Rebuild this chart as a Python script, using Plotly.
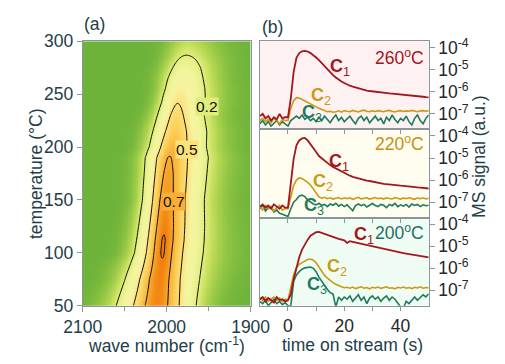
import numpy as np
import plotly.graph_objects as go
from plotly.colors import sample_colorscale

# ---------------- panel (a): IR band intensity map ----------------
TEMP = [50, 75, 100, 112, 125, 150, 175, 190, 200, 215, 230, 242, 255, 265, 275, 283, 287, 300]
PEAK_HEIGHT = [0.78, 0.79, 0.806, 0.806, 0.792, 0.76, 0.73, 0.705, 0.675, 0.61, 0.55, 0.497,
               0.43, 0.37, 0.30, 0.235, 0.198, 0.12]
PEAK_CENTER = [2012.1, 2008.2, 2004.4, 2003.3, 2002.4, 2001.1, 1998.4, 1996.7, 1993.4, 1990.1,
               1988.5, 1986.8, 1983.5, 1980.8, 1978.6, 1976.9, 1976.2, 1974.7]
SIGMA_HIGH_WN = [29.1, 25.0, 20.3, 19.5, 18.7, 17.0, 17.6, 18.1, 17.6, 17.6, 15.8, 14.3,
                 14.6, 15.8, 15.6, 15.6, 15.6, 15.6]
SIGMA_LOW_WN = [28.6, 25.7, 24.2, 24.8, 25.3, 25.8, 26.5, 26.9, 24.2, 23.6, 22.0, 23.0,
                22.6, 21.4, 21.4, 21.4, 21.4, 21.4]
SHAPE_LOW_WN = [2.0, 1.65, 1.5, 1.55, 1.6, 1.7, 1.7, 1.7, 1.7, 1.7, 1.7, 1.7,
                1.7, 1.7, 1.7, 1.7, 1.7, 1.7]
LABELED_LEVELS = [0.2, 0.5, 0.7]
LABEL_WN = [1951.6, 1975.3, 1991.8]
LABEL_T = [238, 198, 149]
INNER_LEVEL = 0.8
WN_TICKS = [2100, 2000, 1900]
WN_MINOR = [2050, 1950]
T_TICKS = [50, 100, 150, 200, 250, 300]

# ---------------- panel (b): MS signals (log10 values) ----------------
TIME = list(range(-10, 51))
TIME_TICKS = [0, 20, 40]
TIME_MINOR = [10, 30]
MS_TICKS = [1e-4, 1e-5, 1e-6, 1e-7]
MS_TICKTEXT = ["10<sup>-4</sup>", "10<sup>-5</sup>", "10<sup>-6</sup>", "10<sup>-7</sup>"]

LOG_C1_260 = [-7.1, -7.0, -7.2, -7.1, -7.3, -7.15, -7.25, -7.0, -7.2, -7.15,
              -7.15, -6.3, -5.1, -4.45, -4.24, -4.16, -4.14, -4.17, -4.24, -4.33, -4.44,
              -4.56, -4.7, -4.85, -5.0, -5.12, -5.24, -5.35, -5.45, -5.53, -5.6,
              -5.67, -5.72, -5.76, -5.8, -5.84, -5.88, -5.91, -5.94, -5.96, -5.98,
              -6.0, -6.01, -6.03, -6.04, -6.05, -6.07, -6.08, -6.09, -6.1, -6.11,
              -6.12, -6.14, -6.15, -6.17, -6.18, -6.2, -6.21, -6.22, -6.24, -6.25]
LOG_C2_260 = [-7.3, -7.2, -7.35, -7.25, -7.4, -7.2, -7.3, -7.45, -7.25, -7.3,
              -7.3, -6.75, -6.4, -6.26, -6.28, -6.35, -6.42, -6.5, -6.56, -6.62, -6.68,
              -6.74, -6.8, -6.86, -6.9, -6.88, -6.92, -6.9, -6.86, -6.92, -6.85,
              -6.88, -6.9, -6.84, -6.87, -6.91, -6.86, -6.83, -6.88, -6.9, -6.86,
              -6.89, -6.85, -6.87, -6.9, -6.86, -6.84, -6.88, -6.91, -6.87, -6.85,
              -6.89, -6.86, -6.88, -6.84, -6.87, -6.9, -6.86, -6.85, -6.88, -6.85]
LOG_C3_260 = [-7.45, -7.3, -7.5, -7.35, -7.55, -7.4, -7.3, -7.5, -7.35, -7.45,
              -7.55, -7.3, -7.2, -7.1, -7.2, -7.05, -7.25, -7.15, -7.3, -7.2, -7.35,
              -7.15, -7.3, -7.1, -7.25, -7.4, -7.2, -7.05, -7.3, -7.15, -7.35,
              -7.2, -7.1, -7.3, -7.45, -7.2, -7.1, -7.3, -7.15, -7.4, -7.25,
              -7.1, -7.3, -7.2, -7.45, -7.15, -7.3, -7.05, -7.25, -7.4, -7.2,
              -7.3, -7.1, -7.35, -7.5, -7.2, -7.05, -7.3, -7.45, -7.2, -7.05]

LOG_C1_220 = [-7.2, -7.1, -7.25, -7.15, -7.3, -7.1, -7.2, -7.3, -7.15, -7.25,
              -7.25, -6.0, -5.05, -4.42, -4.2, -4.11, -4.09, -4.2, -4.36, -4.55, -4.73,
              -4.91, -5.02, -5.14, -5.24, -5.32, -5.4, -5.47, -5.55, -5.62, -5.69,
              -5.75, -5.8, -5.85, -5.89, -5.92, -5.96, -5.99, -6.02, -6.04, -6.07,
              -6.09, -6.12, -6.15, -6.17, -6.18, -6.2, -6.21, -6.23, -6.24, -6.25,
              -6.26, -6.28, -6.29, -6.3, -6.32, -6.33, -6.34, -6.35, -6.37, -6.38]
LOG_C2_220 = [-7.2, -7.35, -7.15, -7.3, -7.2, -7.4, -7.25, -7.15, -7.35, -7.3,
              -7.3, -6.7, -6.25, -6.0, -5.9, -5.93, -6.0, -6.1, -6.22, -6.42, -6.62,
              -6.76, -6.82, -6.78, -6.84, -6.8, -6.86, -6.82, -6.79, -6.85, -6.81,
              -6.84, -6.8, -6.87, -6.82, -6.78, -6.85, -6.83, -6.8, -6.86, -6.82,
              -6.79, -6.84, -6.81, -6.86, -6.8, -6.83, -6.85, -6.79, -6.82, -6.86,
              -6.81, -6.84, -6.8, -6.83, -6.87, -6.81, -6.84, -6.8, -6.85, -6.82]
LOG_C3_220 = [-7.3, -7.15, -7.4, -7.25, -7.2, -7.45, -7.35, -7.5, -7.55, -7.6,
              -7.65, -7.3, -7.0, -6.88, -6.72, -6.68, -6.75, -6.9, -7.0, -7.08, -7.12,
              -7.05, -7.15, -7.1, -7.2, -7.08, -7.14, -7.05, -7.18, -7.1, -7.2,
              -7.12, -7.25, -7.38, -7.15, -7.08, -7.16, -7.1, -7.22, -7.12, -7.06,
              -7.15, -7.2, -7.1, -7.14, -7.25, -7.1, -7.16, -7.05, -7.2, -7.12,
              -7.18, -7.1, -7.22, -7.08, -7.15, -7.1, -7.2, -7.12, -7.16, -7.14]

LOG_C1_200 = [-7.4, -7.3, -7.5, -7.35, -7.45, -7.55, -7.3, -7.45, -7.4, -7.5,
              -7.45, -7.17, -6.5, -5.95, -5.5, -5.15, -4.9, -4.7, -4.52, -4.42, -4.36,
              -4.35, -4.4, -4.45, -4.49, -4.53, -4.58, -4.62, -4.66, -4.7, -4.73,
              -4.85, -4.77, -4.8, -4.83, -4.86, -4.89, -4.92, -4.95, -4.98, -5.01,
              -5.03, -5.06, -5.08, -5.11, -5.14, -5.17, -5.2, -5.23, -5.26, -5.28,
              -5.31, -5.33, -5.35, -5.37, -5.39, -5.41, -5.44, -5.46, -5.48, -5.5]
LOG_C2_200 = [-7.35, -7.45, -7.3, -7.5, -7.4, -7.3, -7.45, -7.35, -7.5, -7.4,
              -7.45, -6.9, -6.3, -5.96, -5.82, -5.74, -5.66, -5.6, -5.58, -5.63, -5.75,
              -5.95, -6.16, -6.32, -6.45, -6.56, -6.65, -6.72, -6.8, -6.84, -6.88,
              -6.86, -6.9, -6.85, -6.92, -6.88, -6.84, -6.9, -6.87, -6.93, -6.86,
              -6.89, -6.85, -6.91, -6.87, -6.84, -6.9, -6.88, -6.93, -6.86, -6.89,
              -6.85, -6.9, -6.87, -6.92, -6.86, -6.89, -6.84, -6.9, -6.87, -6.88]
LOG_C3_200 = [-7.5, -7.6, -7.45, -7.7, -7.55, -7.4, -7.6, -7.5, -7.65, -7.55,
              -7.7, -7.7, -6.6, -6.3, -6.15, -6.04, -5.98, -5.95, -5.94, -6.0, -6.15,
              -6.4, -6.6, -6.8, -6.96, -7.1, -7.17, -7.75, -7.3, -7.45, -7.3,
              -7.4, -7.25, -7.5, -7.35, -7.2, -7.45, -7.3, -7.6, -7.35, -7.25,
              -7.4, -7.3, -7.5, -7.35, -7.25, -7.45, -7.3, -7.4, -7.55, -7.75,
              -7.8, -7.5, -7.6, -7.45, -7.3, -7.45, -7.3, -7.2, -7.3, -7.15]

FONT = "Liberation Sans, Arial, sans-serif"
FS = 17.5
TXT = "#223e49"
TXT_R = "#262626"
GREY = "#8a969c"
C1_COL = "#a3161f"
C2_COL = "#c99a12"
C3_COL = "#1e7a5c"
BG_COLS = ["#fdf1f1", "#fefdf0", "#effcf3"]
TEMP_COLS = ["#a3161f", "#c8900e", "#1e6f5f"]
ZMAX = 0.82

# ---- build spectral map from per-temperature peak parameters ----
wn = np.arange(1900.0, 2100.5, 1.0)
Z = []
for A, c, sh, sl, p in zip(PEAK_HEIGHT, PEAK_CENTER, SIGMA_HIGH_WN, SIGMA_LOW_WN, SHAPE_LOW_WN):
    d = wn - c
    hi = A * np.exp(-0.5 * (np.clip(d, 0, None) / sh) ** 2)
    lo = A * np.exp(-0.5 * (np.clip(-d, 0, None) / sl) ** p)
    Z.append(np.where(d >= 0, hi, lo))
Z = np.array(Z)

# colour stops given in z units, normalised by ZMAX
CSTOPS_Z = [0.0, 0.01, 0.03, 0.07, 0.12, 0.17, 0.22, 0.3, 0.4, 0.5, 0.6, 0.7, 0.76, 0.82]
CSTOPS_COL = ["#6db33a", "#76b73c", "#86c041", "#a0cd4a", "#bddc58", "#d6e96e", "#e6f085",
              "#f0f69c", "#f8f3a0", "#fce27a", "#fccf58", "#f9ae36", "#f5931c", "#f07406"]
cscale = [[z / ZMAX, c] for z, c in zip(CSTOPS_Z, CSTOPS_COL)]

fig = go.Figure()
fig.add_trace(go.Heatmap(x=wn, y=TEMP, z=Z, colorscale=cscale, zmin=0, zmax=ZMAX,
                         zsmooth="best", showscale=False, hoverinfo="skip",
                         xaxis="x", yaxis="y"))
for lvl in LABELED_LEVELS + [INNER_LEVEL]:
    fig.add_trace(go.Contour(
        x=wn, y=TEMP, z=Z, autocontour=False,
        contours=dict(start=lvl, end=lvl, size=0.5, coloring="lines", showlabels=False),
        line=dict(width=1, smoothing=1.0),
        colorscale=[[0, "#111111"], [1, "#111111"]], showscale=False,
        hoverinfo="skip", xaxis="x", yaxis="y"))

# ---- MS panels ----
panels = [
    ("x2", "y2", LOG_C1_260, LOG_C2_260, LOG_C3_260),
    ("x3", "y3", LOG_C1_220, LOG_C2_220, LOG_C3_220),
    ("x4", "y4", LOG_C1_200, LOG_C2_200, LOG_C3_200),
]
for xa, ya, c1, c2, c3 in panels:
    for vals, col, w in [(c3, C3_COL, 1.6), (c2, C2_COL, 1.6), (c1, C1_COL, 1.8)]:
        fig.add_trace(go.Scatter(x=TIME, y=10 ** np.array(vals), mode="lines",
                                 line=dict(color=col, width=w), xaxis=xa, yaxis=ya,
                                 hoverinfo="skip", showlegend=False))

XDOM_L = [69 / 505, 251 / 505]
XDOM_R = [261 / 505, 444 / 505]
YDOM_L = [51 / 364, 331 / 364]
YDOMS = [[1 - 126.3 / 364, 1 - 33 / 364], [1 - 219.7 / 364, 1 - 126.3 / 364],
         [1 - 313 / 364, 1 - 219.7 / 364]]

common = dict(showgrid=False, zeroline=False, showline=True, linecolor=GREY, linewidth=1,
              mirror=True, ticks="outside", tickcolor=GREY)

layout = dict(
    width=505, height=364, margin=dict(l=0, r=0, t=0, b=0),
    paper_bgcolor="white", plot_bgcolor="white", showlegend=False,
    font=dict(family=FONT, color=TXT),
    xaxis=dict(domain=XDOM_L, range=[2100, 1900], tickvals=WN_TICKS, ticklen=5,
               minor=dict(tickvals=WN_MINOR, ticks="outside", ticklen=4, tickcolor=GREY),
               tickfont=dict(size=FS, color=TXT), anchor="y", **common),
    yaxis=dict(domain=YDOM_L, range=[50, 300], tickvals=T_TICKS, ticklen=5,
               tickfont=dict(size=FS, color=TXT), anchor="x", **common),
)
for i, (xa, ya, *_r) in enumerate(panels):
    xn = "xaxis" + xa[1:]
    yn = "yaxis" + ya[1:]
    layout[xn] = dict(domain=XDOM_R, range=[-10, 50], anchor=ya, tickvals=TIME_TICKS,
                      showticklabels=(i == 2), ticklen=4,
                      minor=dict(tickvals=TIME_MINOR, ticks="outside", ticklen=4, tickcolor=GREY),
                      tickfont=dict(size=FS, color=TXT_R), **common)
    layout[yn] = dict(domain=YDOMS[i], type="log", range=[-7.7, -3.7], side="right",
                      anchor=xa, tickvals=MS_TICKS, ticktext=MS_TICKTEXT, ticklen=5,
                      tickfont=dict(size=FS, color=TXT_R), **common)
fig.update_layout(**layout)

shapes = []
for i, (xa, ya, *_r) in enumerate(panels):
    shapes.append(dict(type="rect", xref=xa + " domain", yref=ya + " domain", x0=0, x1=1,
                       y0=0, y1=1, fillcolor=BG_COLS[i], line=dict(width=0), layer="below"))
fig.update_layout(shapes=shapes)

ann = []
def A(text, x, y, size=FS, color=TXT, angle=0, xanchor="center", yanchor="middle",
      xref="paper", yref="paper", bgcolor=None):
    d = dict(text=text, x=x, y=y, xref=xref, yref=yref, showarrow=False,
             font=dict(size=size, color=color, family=FONT), textangle=angle,
             xanchor=xanchor, yanchor=yanchor)
    if bgcolor:
        d.update(bgcolor=bgcolor, borderpad=0)
    ann.append(d)

A("(a)", 68 / 505, 1 - 15 / 364, xanchor="left")
A("(b)", 261 / 505, 1 - 18 / 364, xanchor="left")
A("temperature (°C)", 19 / 505, 1 - 173 / 364, angle=-90)
A("wave number (cm<sup>-1</sup>)", 160 / 505, 1 - 355 / 364)
A("time on stream (s)", 361 / 505, 1 - 355 / 364)
A("MS signal (a.u.)", 499 / 505, 1 - 155 / 364, angle=-90)

# contour labels masking the contour line, background = map colour at the level
for lvl, lx, ly in zip(LABELED_LEVELS, LABEL_WN, LABEL_T):
    bg = sample_colorscale(cscale, [lvl / ZMAX])[0]
    A("%.1f" % lvl, lx, ly, size=15.5, color="#111111", xref="x", yref="y", bgcolor=bg)

TEMP_LABELS = ["260<sup>o</sup>C", "220<sup>o</sup>C", "200<sup>o</sup>C"]
TEMP_LABEL_Y = [-4.43, -4.33, -4.36]
C_LABEL_POS = [
    [(14.1, -4.9), (7.6, -6.19), (4.3, -6.96)],
    [(13.8, -5.19), (8.2, -6.11), (4.9, -7.18)],
    [(22.7, -4.53), (13.2, -5.97), (5.9, -6.76)],
]
for i, (xa, ya, *_r) in enumerate(panels):
    A(TEMP_LABELS[i], 49, TEMP_LABEL_Y[i], color=TEMP_COLS[i], xanchor="right",
      xref=xa, yref=ya)
    for k, (tx, ly) in enumerate(C_LABEL_POS[i]):
        col = [C1_COL, C2_COL, C3_COL][k]
        A("<b>C</b><sub>%d</sub>" % (k + 1), tx, ly, size=18, color=col, xanchor="left",
          xref=xa, yref=ya)
fig.update_layout(annotations=ann)

fig.write_html("out.html")
